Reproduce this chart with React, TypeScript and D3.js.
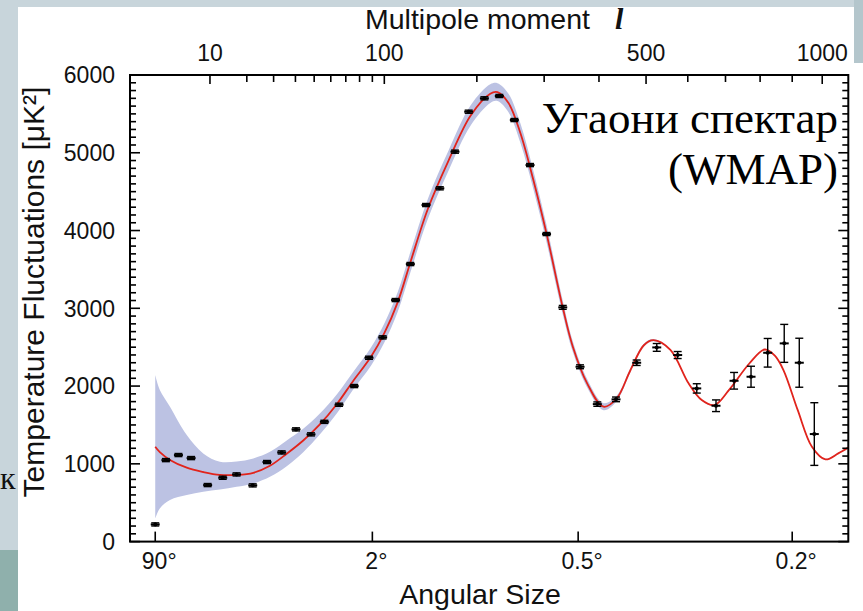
import React from 'react';
import * as d3 from 'd3';

const W = 863;
const H = 611;

// top axis (multipole moment l)
const topMajorTicks = [10, 100, 500, 1000];
const topMinorTicks = [20, 30, 40, 50, 60, 70, 80, 90, 200, 300, 400, 600, 700, 800, 900];
const topLabeledTicks = [10, 100, 500, 1000];
// bottom axis (angular size, degrees)
const angleDegrees = [90, 2, 0.5, 0.2];
const angleLabels = ['90°', '2°', '0.5°', '0.2°'];
// y axis
const yMajorTicks = [0, 1000, 2000, 3000, 4000, 5000, 6000];

// measured data points
const dataL = [2, 3, 4.5, 6.4, 9.5, 13, 16.8, 22, 27.3, 33.5, 40.3, 48.2, 56, 65.4, 76, 87.3, 98.6, 110, 124, 140, 155, 172.6, 189.5, 210, 230.7, 252.7, 277, 304, 332, 363.5, 396.7, 434.7, 479, 524.6, 574.8, 623, 674, 724, 773, 823, 874.5, 923, 973];
const dataV = [221, 1048, 1113, 1074, 727, 821, 864, 723, 1023, 1147, 1443, 1379, 1540, 1760, 2000, 2364, 2626, 3106, 3569, 4328, 4543, 5014, 5528, 5700, 5730, 5421, 4842, 3955, 3012, 2248, 1768, 1829, 2300, 2497, 2399, 1970, 1747, 2068, 2120, 2428, 2549, 2300, 1383];
const dataErr = [20, 20, 20, 20, 20, 20, 20, 20, 20, 20, 20, 20, 20, 20, 20, 20, 20, 20, 20, 20, 20, 20, 20, 20, 20, 20, 20, 20, 25, 25, 28, 30, 35, 50, 45, 60, 75, 107, 135, 184, 244, 315, 403];

// model curve and its uncertainty band
const modelL = [2, 2.4, 3.45, 5.7, 8.6, 12.3, 16.8, 22.2, 28.5, 35.8, 44, 53, 64, 75, 89, 100, 112, 124, 142, 165, 192, 218, 228, 244, 262, 282, 304, 332, 350, 377, 409, 436, 465, 495, 517, 557, 602, 636, 670, 710, 768, 814, 845, 872, 918, 965, 1011, 1056, 1092];
const modelV = [1219, 1150, 1050, 950, 895, 858, 858, 885, 975, 1130, 1300, 1500, 1770, 2060, 2380, 2680, 3080, 3590, 4280, 4900, 5480, 5760, 5780, 5640, 5250, 4660, 3960, 3010, 2510, 2035, 1735, 1840, 2200, 2525, 2590, 2465, 2035, 1820, 1755, 1950, 2290, 2470, 2390, 2206, 1690, 1219, 1057, 1134, 1210];
const bandLo = [298, 427, 534, 598, 641, 671, 705, 748, 834, 970, 1150, 1370, 1650, 1950, 2265, 2560, 2955, 3460, 4150, 4770, 5350, 5640, 5665, 5520, 5125, 4540, 3850, 2920, 2440, 1980, 1690, 1805, 2175, 2505, 2575, 2457, 2027, 1812, 1747, 1942, 2282, 2462, 2382, 2198, 1682, 1211, 1049, 1126, 1202];
const bandHi = [2141, 1950, 1734, 1370, 1134, 1027, 1030, 1070, 1155, 1300, 1450, 1640, 1895, 2175, 2500, 2805, 3210, 3720, 4410, 5030, 5610, 5880, 5895, 5760, 5375, 4780, 4070, 3100, 2580, 2090, 1780, 1875, 2225, 2545, 2605, 2473, 2043, 1828, 1763, 1958, 2298, 2478, 2398, 2214, 1698, 1227, 1065, 1142, 1218];

const SANS = '"Liberation Sans", Arial, Helvetica, sans-serif';
const SERIF = '"Liberation Serif", "Times New Roman", serif';

export default function App() {
  const left = 130, right = 848.3, top = 75, bottom = 541.6;
  const x = d3.scalePow().exponent(0.4).domain([0.52, 1092]).range([left, right]);
  const y = d3.scaleLinear().domain([0, 6000]).range([bottom, top]);

  const model = modelL.map((l, i) => ({ l, v: modelV[i], lo: bandLo[i], hi: bandHi[i] }));
  const points = dataL.map((l, i) => ({ l, v: dataV[i], e: dataErr[i] }));

  const line = d3.line<any>().x(d => x(d.l)).y(d => y(d.v)).curve(d3.curveCatmullRom.alpha(0.5));
  const area = d3.area<any>().x(d => x(d.l)).y0(d => y(d.lo)).y1(d => y(d.hi)).curve(d3.curveCatmullRom.alpha(0.5));

  const minorY = d3.range(0, 6001, 100);

  return (
    <svg width={W} height={H} style={{ position: 'absolute', left: 0, top: 0, display: 'block' }}>
      {/* slide background */}
      <rect x={0} y={0} width={W} height={H} fill="#c8d5db" />
      <rect x={18} y={7} width={W - 18} height={H - 7} fill="#ffffff" />
      <rect x={0} y={550} width={18} height={61} fill="#8fb0ac" />
      <rect x={854} y={0} width={9} height={63} fill="#b4c6cc" />
      <text x={0} y={489} fontFamily={SERIF} fontSize={32} fill="#111">к</text>

      <defs>
        <clipPath id="plotClip">
          <rect x={left} y={top} width={right - left} height={bottom - top} />
        </clipPath>
      </defs>

      {/* band and model */}
      <g clipPath="url(#plotClip)">
        <path d={area(model) || ''} fill="#bcc2e3" stroke="none" />
        <path d={line(model) || ''} fill="none" stroke="#e1241c" strokeWidth={1.8} />
      </g>

      {/* data points */}
      <g stroke="#000" fill="#000">
        {points.map((p, i) => {
          const cx = x(p.l);
          const cy = y(p.v);
          const y1 = y(p.v + p.e);
          const y2 = y(p.v - p.e);
          return (
            <g key={i}>
              <line x1={cx} x2={cx} y1={y1} y2={y2} strokeWidth={1.4} />
              <line x1={cx - 4} x2={cx + 4} y1={y1} y2={y1} strokeWidth={1.4} />
              <line x1={cx - 4} x2={cx + 4} y1={y2} y2={y2} strokeWidth={1.4} />
              <line x1={cx - 4.5} x2={cx + 4.5} y1={cy} y2={cy} strokeWidth={2} />
              <circle cx={cx} cy={cy} r={2} stroke="none" />
            </g>
          );
        })}
      </g>

      {/* frame */}
      <rect x={left} y={top} width={right - left} height={bottom - top} fill="none" stroke="#000" strokeWidth={2} />

      {/* y ticks left and right */}
      <g stroke="#000" strokeWidth={1.6}>
        {minorY.map(v => {
          const major = v % 1000 === 0;
          const len = major ? 10 : 6;
          return (
            <g key={v}>
              <line x1={left} x2={left + len} y1={y(v)} y2={y(v)} />
              <line x1={right} x2={right - len} y1={y(v)} y2={y(v)} />
            </g>
          );
        })}
      </g>
      {yMajorTicks.map(v => (
        <text key={v} x={115} y={y(v)} dy="0.36em" textAnchor="end" fontFamily={SANS} fontSize={23} fill="#111">{v}</text>
      ))}

      {/* top axis ticks */}
      <g stroke="#000" strokeWidth={1.6}>
        {topMajorTicks.map(l => (
          <line key={'M' + l} x1={x(l)} x2={x(l)} y1={top} y2={top + 9} />
        ))}
        {topMinorTicks.map(l => (
          <line key={'m' + l} x1={x(l)} x2={x(l)} y1={top} y2={top + 7} />
        ))}
      </g>
      {topLabeledTicks.map(l => (
        <text key={l} x={x(l)} y={61} textAnchor="middle" fontFamily={SANS} fontSize={23} fill="#111">{l}</text>
      ))}

      {/* bottom axis ticks */}
      <g stroke="#000" strokeWidth={1.6}>
        {angleDegrees.map(a => (
          <line key={a} x1={x(180 / a)} x2={x(180 / a)} y1={bottom} y2={bottom - 10} />
        ))}
      </g>
      {angleDegrees.map((a, i) => (
        <text key={a} x={x(180 / a) + 4} y={569} textAnchor="middle" fontFamily={SANS} fontSize={23} fill="#111">{angleLabels[i]}</text>
      ))}

      {/* axis titles */}
      <text x={365} y={29} fontFamily={SANS} fontSize={28.5} fill="#111">Multipole moment</text>
      <text x={615} y={29} fontFamily={SERIF} fontSize={30} fontStyle="italic" fontWeight="bold" fill="#111">l</text>
      <text x={480} y={604} textAnchor="middle" fontFamily={SANS} fontSize={28.5} fill="#111">Angular Size</text>
      <text transform="translate(44,292) rotate(-90)" textAnchor="middle" fontFamily={SANS} fontSize={30} fill="#111">Temperature Fluctuations [μK²]</text>

      {/* annotation */}
      <text x={838} y={133} textAnchor="end" fontFamily={SERIF} fontSize={45} fill="#000">Угаони спектар</text>
      <text x={838} y={184} textAnchor="end" fontFamily={SERIF} fontSize={45} fill="#000">(WMAP)</text>
    </svg>
  );
}
